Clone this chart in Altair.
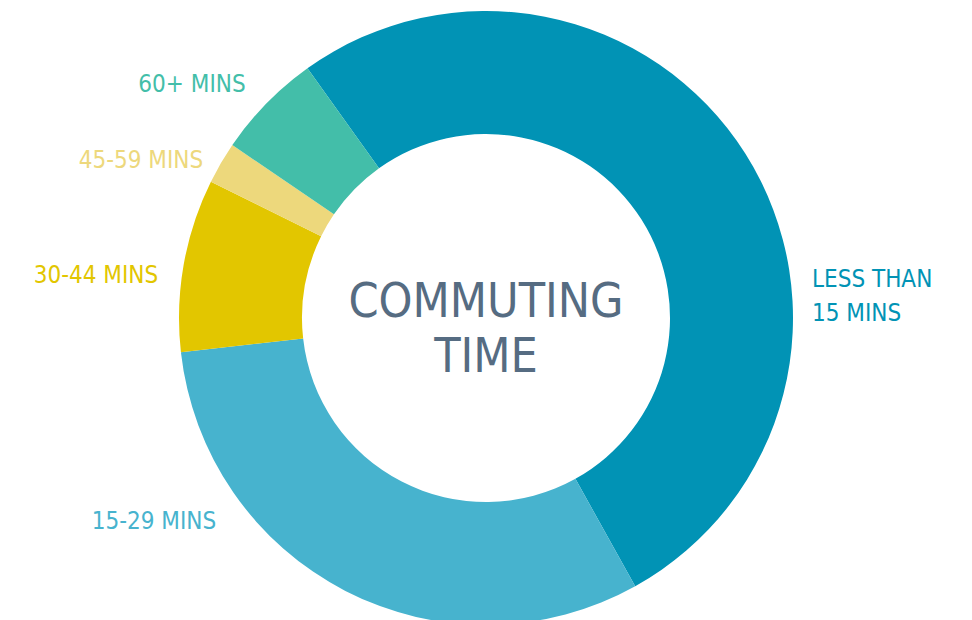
import math
import altair as alt
import pandas as pd

# Data
categories = ["LESS THAN 15 MINS", "15-29 MINS", "30-44 MINS", "45-59 MINS", "60+ MINS"]
label_texts = [["LESS THAN", "15 MINS"], ["15-29 MINS"], ["30-44 MINS"], ["45-59 MINS"], ["60+ MINS"]]
shares = [51.8, 31.3, 9.1, 2.2, 5.6]
colors = ["#0193b5", "#47b3ce", "#e2c600", "#edd87c", "#43bea9"]
title_lines = ["COMMUTING", "TIME"]
title_color = "#566c82"

FONT = "DejaVu Sans Condensed, DejaVu Sans, sans-serif"

df = pd.DataFrame({"category": categories, "share": shares, "idx": list(range(len(categories)))})

start = math.radians(324.44)
theta_scale = alt.Scale(range=[start, start + 2 * math.pi])
color_scale = alt.Scale(domain=categories, range=colors)

W, H = 956, 620

donut = alt.Chart(df).mark_arc(innerRadius=184, outerRadius=307, stroke=None).encode(
    theta=alt.Theta("share:Q", stack=True, scale=theta_scale),
    color=alt.Color("category:N", scale=color_scale, legend=None),
    order=alt.Order("idx:Q"),
)

# label layout (annotation placement)
label_layout = {
    "LESS THAN 15 MINS": dict(x=804, y=279, align="left"),
    "15-29 MINS": dict(x=146, y=521, align="center"),
    "30-44 MINS": dict(x=88, y=275, align="center"),
    "45-59 MINS": dict(x=133, y=160, align="center"),
    "60+ MINS": dict(x=184, y=84, align="center"),
}

layers = [donut]
for cat, txt, col in zip(categories, label_texts, colors):
    pos = label_layout[cat]
    layers.append(
        alt.Chart(pd.DataFrame({"t": [txt]})).mark_text(
            x=pos["x"], y=pos["y"], align=pos["align"], baseline="alphabetic",
            font=FONT, fontSize=24, lineHeight=34, color=col,
        ).encode(text="t")
    )

layers.append(
    alt.Chart(pd.DataFrame({"t": [title_lines]})).mark_text(
        x=W / 2, y=309, align="center", baseline="alphabetic",
        font=FONT, fontSize=48, lineHeight=55, color=title_color,
    ).encode(text="t")
)

chart = alt.layer(*layers).properties(
    width=W, height=H, padding=0, autosize=alt.AutoSizeParams(type="none")
).configure_view(stroke=None).configure(background="white")

chart.save("out.html", embed_options={"renderer": "svg", "actions": False})
